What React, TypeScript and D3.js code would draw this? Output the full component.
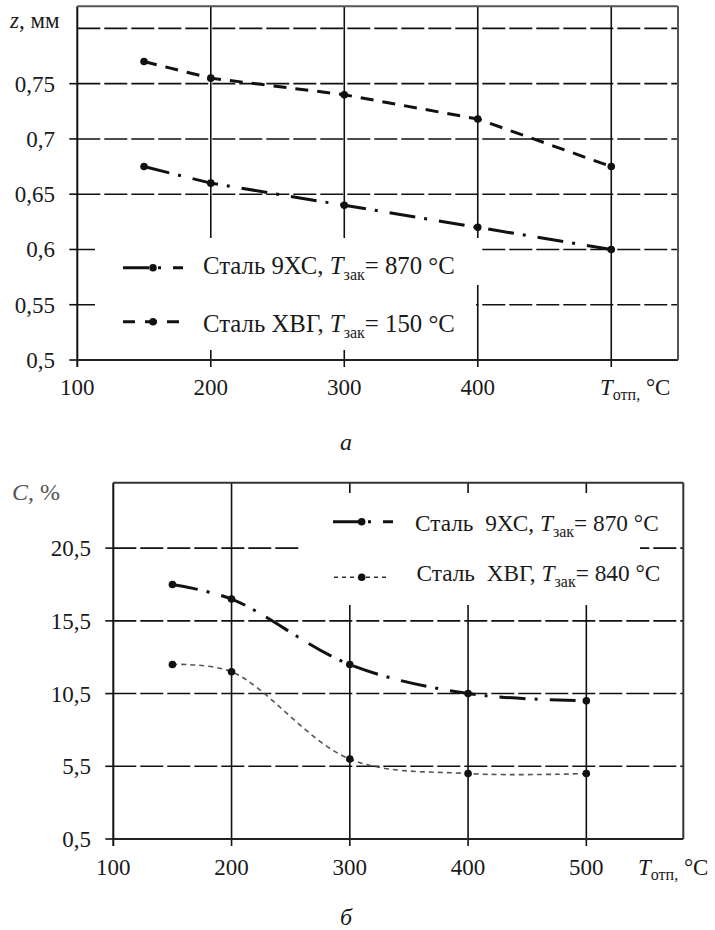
import React from "react";
import * as d3 from "d3";

// Tempering temperature, °C
const temps = [150, 200, 300, 400, 500];

// (а) depth z, mm
const zSteel9XC = [0.675, 0.66, 0.64, 0.62, 0.6];
const zSteelXVG = [0.77, 0.755, 0.74, 0.718, 0.675];
const zTicks = [0.5, 0.55, 0.6, 0.65, 0.7, 0.75];
const zGrid = [0.55, 0.6, 0.65, 0.7, 0.75, 0.8];
const tempTicksA = [100, 200, 300, 400];
const tempGridA = [200, 300, 400, 500];

// (б) content C, %
const cSteel9XC = [18, 17, 12.5, 10.5, 10];
const cSteelXVG = [12.5, 12, 6, 5, 5];
const cTicks = [0.5, 5.5, 10.5, 15.5, 20.5];
const tempTicksB = [100, 200, 300, 400, 500];
const tempGridB = [200, 300, 400, 500];

const legendA = [
  { name: "Сталь 9ХС, ", temp: "= 870 °C" },
  { name: "Сталь ХВГ, ", temp: "= 150 °C" },
];
const legendB = [
  { name: "Сталь\u00a0 9ХС, ", temp: "= 870 °C" },
  { name: "Сталь\u00a0 ХВГ, ", temp: "= 840 °C" },
];

const FONT = "'Liberation Serif'";
const INK = "#1a1a1a";
const fmt = (v: number) => String(v).replace(".", ",");

const DASH_DOT = "26,9,3,12";
const DASH = "12,10";
const GRID_DASH = "23,4";

function TempLabel({ x, y }: { x: number; y: number }) {
  return (
    <text x={x} y={y} style={{ fontFamily: FONT }} fontSize={23} fill={INK}>
      <tspan fontStyle="italic">T</tspan>
      <tspan fontSize={16} dy={5}>отп,</tspan>
      <tspan dy={-5}> °C</tspan>
    </text>
  );
}

function LegendText({ x, y, name, temp, size }: { x: number; y: number; name: string; temp: string; size: number }) {
  return (
    <text x={x} y={y} style={{ fontFamily: FONT }} fontSize={size} fill={INK}>
      <tspan>{name}</tspan>
      <tspan fontStyle="italic">T</tspan>
      <tspan fontSize={16} dy={6}>зак</tspan>
      <tspan dy={-6}>{temp}</tspan>
    </text>
  );
}

function ChartA() {
  const x = d3.scaleLinear().domain([100, 550]).range([77.3, 678]);
  const y = d3.scaleLinear().domain([0.5, 0.82]).range([360, 6.3]);
  const line = d3
    .line<number>()
    .x((_, i) => x(temps[i]))
    .y((d) => y(d));
  const [x0, x1] = x.range();
  const [yb, yt] = y.range();
  return (
    <g>
      {zGrid.map((v) => (
        <line key={"h" + v} x1={x0} x2={x1} y1={y(v)} y2={y(v)} stroke="#111" strokeWidth={1.6} strokeDasharray={GRID_DASH} />
      ))}
      {zTicks.map((v) => (
        <line key={"t" + v} x1={x0 - 8} x2={x0} y1={y(v)} y2={y(v)} stroke="#111" strokeWidth={1.6} />
      ))}
      {tempGridA.map((v) => (
        <line key={"v" + v} x1={x(v)} x2={x(v)} y1={yt} y2={yb + 7} stroke="#111" strokeWidth={1.6} />
      ))}
      <line x1={x0} x2={x0} y1={yt} y2={yb + 7} stroke="#111" strokeWidth={2} />
      <line x1={x0} x2={x1} y1={yb} y2={yb} stroke="#222" strokeWidth={2} />
      <line x1={x0} x2={x1} y1={yt} y2={yt} stroke="#555" strokeWidth={2} />
      <line x1={x1} x2={x1} y1={yt} y2={yb} stroke="#555" strokeWidth={2} />

      {/* legend background */}
      <rect x={95} y={238} width={385} height={47} fill="#fff" />
      <rect x={95} y={285} width={381} height={65} fill="#fff" />

      <path d={line(zSteelXVG) ?? ""} fill="none" stroke="#111" strokeWidth={3} strokeDasharray="13,9" />
      <path d={line(zSteel9XC) ?? ""} fill="none" stroke="#111" strokeWidth={3} strokeDasharray={DASH_DOT} />
      {temps.map((t, i) => (
        <g key={"m" + t}>
          <circle cx={x(t)} cy={y(zSteelXVG[i])} r={3.8} fill="#111" />
          <circle cx={x(t)} cy={y(zSteel9XC[i])} r={3.8} fill="#111" />
        </g>
      ))}

      {/* legend */}
      <line x1={123} x2={183} y1={267.7} y2={267.7} stroke="#111" strokeWidth={3} strokeDasharray={DASH_DOT} />
      <circle cx={153} cy={267.7} r={3.8} fill="#111" />
      <LegendText x={203} y={274} size={24.8} {...legendA[0]} />
      <line x1={123} x2={183} y1={321.7} y2={321.7} stroke="#111" strokeWidth={3} strokeDasharray={DASH} />
      <circle cx={153} cy={321.7} r={3.8} fill="#111" />
      <LegendText x={203} y={331.5} size={24.8} {...legendA[1]} />

      {zTicks.map((v) => (
        <text key={"l" + v} x={55} y={y(v) + 8} textAnchor="end" style={{ fontFamily: FONT }} fontSize={23} fill={INK}>
          {fmt(v)}
        </text>
      ))}
      {tempTicksA.map((v) => (
        <text key={"xl" + v} x={x(v)} y={395} textAnchor="middle" style={{ fontFamily: FONT }} fontSize={23} fill={INK}>
          {v}
        </text>
      ))}
      <TempLabel x={600} y={395} />
      <text x={10} y={28} style={{ fontFamily: FONT }} fontSize={23} fill={INK}>
        <tspan fontStyle="italic">z</tspan>
        <tspan>, мм</tspan>
      </text>
      <text x={340} y={450} style={{ fontFamily: FONT }} fontSize={24} fontStyle="italic" fill={INK}>а</text>
    </g>
  );
}

function ChartB() {
  const x = d3.scaleLinear().domain([100, 582]).range([113.3, 683.3]);
  const y = d3.scaleLinear().domain([0.5, 25]).range([839, 482.7]);
  const line = d3
    .line<number>()
    .x((_, i) => x(temps[i]))
    .y((d) => y(d))
    .curve(d3.curveCatmullRom.alpha(0.5));
  const [x0, x1] = x.range();
  const [yb, yt] = y.range();
  return (
    <g>
      {cTicks.filter((v) => v > 0.5).map((v) => (
        <line key={"h" + v} x1={x0} x2={x1} y1={y(v)} y2={y(v)} stroke="#111" strokeWidth={1.6} strokeDasharray={GRID_DASH} />
      ))}
      {cTicks.map((v) => (
        <line key={"t" + v} x1={x0 - 8} x2={x0} y1={y(v)} y2={y(v)} stroke="#111" strokeWidth={1.6} />
      ))}
      {tempGridB.map((v) => (
        <line key={"v" + v} x1={x(v)} x2={x(v)} y1={yt} y2={yb + 7} stroke="#111" strokeWidth={1.6} />
      ))}
      <line x1={x0} x2={x0} y1={yt} y2={yb + 7} stroke="#111" strokeWidth={2} />
      <line x1={x0} x2={x1} y1={yb} y2={yb} stroke="#222" strokeWidth={2} />
      <line x1={x0} x2={x1} y1={yt} y2={yt} stroke="#333" strokeWidth={2} />
      <line x1={x1} x2={x1} y1={yt} y2={yb} stroke="#333" strokeWidth={2} />

      {/* legend background */}
      <rect x={300} y={493} width={340} height={112} fill="#fff" />

      <path d={line(cSteelXVG) ?? ""} fill="none" stroke="#555" strokeWidth={1.6} strokeDasharray="5,4" />
      <path d={line(cSteel9XC) ?? ""} fill="none" stroke="#111" strokeWidth={3} strokeDasharray={DASH_DOT} />
      {temps.map((t, i) => (
        <g key={"m" + t}>
          <circle cx={x(t)} cy={y(cSteelXVG[i])} r={3.8} fill="#111" />
          <circle cx={x(t)} cy={y(cSteel9XC[i])} r={3.8} fill="#111" />
        </g>
      ))}

      {/* legend */}
      <line x1={333} x2={393} y1={521.7} y2={521.7} stroke="#111" strokeWidth={3} strokeDasharray={DASH_DOT} />
      <circle cx={361.7} cy={521.7} r={3.8} fill="#111" />
      <LegendText x={415} y={530.5} size={23.3} {...legendB[0]} />
      <line x1={334} x2={389} y1={577.3} y2={577.3} stroke="#333" strokeWidth={1.6} strokeDasharray="4,4" />
      <circle cx={361.7} cy={577.3} r={3.8} fill="#111" />
      <LegendText x={416.5} y={580.5} size={23.3} {...legendB[1]} />

      {cTicks.map((v) => (
        <text key={"l" + v} x={91} y={y(v) + 8} textAnchor="end" style={{ fontFamily: FONT }} fontSize={23} fill={INK}>
          {fmt(v)}
        </text>
      ))}
      {tempTicksB.map((v) => (
        <text key={"xl" + v} x={x(v)} y={875} textAnchor="middle" style={{ fontFamily: FONT }} fontSize={23} fill={INK}>
          {v}
        </text>
      ))}
      <TempLabel x={638} y={875} />
      <text x={12} y={500} style={{ fontFamily: FONT }} fontSize={24} fill="#555">
        <tspan fontStyle="italic">C</tspan>
        <tspan>, %</tspan>
      </text>
      <text x={340} y={925} style={{ fontFamily: FONT }} fontSize={24} fontStyle="italic" fill={INK}>б</text>
    </g>
  );
}

export default function App() {
  return (
    <svg
      width={715}
      height={930}
      viewBox="0 0 715 930"
      style={{ position: "absolute", left: 0, top: 0, background: "#fff" }}
    >
      <rect width={715} height={930} fill="#fff" />
      <ChartA />
      <ChartB />
    </svg>
  );
}
